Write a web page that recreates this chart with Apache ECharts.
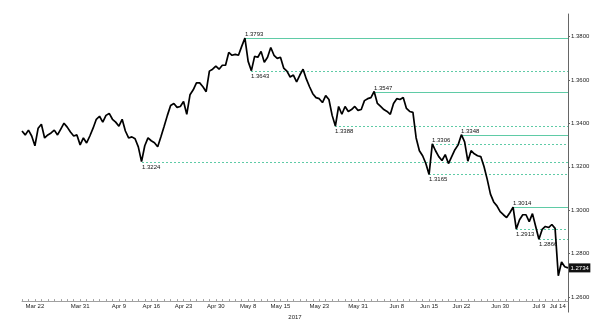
<!DOCTYPE html>
<html><head><meta charset="utf-8">
<script src="https://cdn.jsdelivr.net/npm/echarts@6/dist/echarts.min.js"></script>
<style>html,body{margin:0;padding:0;background:#fff}#c{width:600px;height:325px}</style>
</head><body><div id="c"></div>
<script>
// GBP/CAD, two readings per trading day, 20 Mar - 14 Jul 2017
const prices = [
1.3365,1.3347,1.3369,1.3342,1.3297,1.3378,1.3396,1.3333,1.3347,1.3356,
1.3369,1.3347,1.3374,1.3401,1.3383,1.3360,1.3342,1.3347,1.3301,1.3333,
1.3310,1.3342,1.3378,1.3419,1.3433,1.3406,1.3437,1.3446,1.3419,1.3406,
1.3387,1.3419,1.3365,1.3333,1.3338,1.3329,1.3292,1.3224,1.3297,1.3333,
1.3320,1.3311,1.3292,1.3338,1.3387,1.3437,1.3483,1.3492,1.3474,1.3478,
1.3501,1.3442,1.3532,1.3555,1.3587,1.3587,1.3569,1.3546,1.3641,1.3650,
1.3664,1.3650,1.3668,1.3668,1.3727,1.3714,1.3718,1.3714,1.3755,1.3793,
1.3686,1.3643,1.3709,1.3705,1.3732,1.3682,1.3705,1.3750,1.3714,1.3700,
1.3705,1.3655,1.3641,1.3614,1.3623,1.3591,1.3623,1.3650,1.3605,1.3569,
1.3537,1.3519,1.3514,1.3496,1.3528,1.3510,1.3437,1.3388,1.3478,1.3442,
1.3478,1.3455,1.3464,1.3478,1.3460,1.3464,1.3505,1.3514,1.3519,1.3547,
1.3492,1.3478,1.3464,1.3455,1.3442,1.3492,1.3514,1.3510,1.3519,1.3469,
1.3455,1.3451,1.3333,1.3274,1.3251,1.3215,1.3165,1.3306,1.3274,1.3247,
1.3229,1.3256,1.3215,1.3247,1.3279,1.3301,1.3348,1.3315,1.3226,1.3274,
1.3260,1.3251,1.3247,1.3201,1.3142,1.3074,1.3038,1.3020,1.2993,1.2979,
1.2966,1.2988,1.3014,1.2913,1.2956,1.2979,1.2979,1.2947,1.2984,1.2925,
1.2866,1.2911,1.2925,1.2920,1.2934,1.2916,1.2698,1.2761,1.2739,1.2734
];
const tickLabels = ['Mar 22','Mar 31','Apr 9','Apr 16','Apr 23','Apr 30','May 8','May 15','May 23','May 31','Jun 8','Jun 15','Jun 22','Jun 30','Jul 9','Jul 14'];
const tickDays = ['2017-03-22','2017-03-31','2017-04-10','2017-04-17','2017-04-24','2017-05-01','2017-05-08','2017-05-15','2017-05-23','2017-05-31','2017-06-08','2017-06-15','2017-06-22','2017-06-30','2017-07-10','2017-07-14'];
const yTicks = [1.26,1.28,1.30,1.32,1.34,1.36,1.38];
const levels = [1.3793,1.3643,1.3547,1.3388,1.3348,1.3306,1.3224,1.3165,1.3014,1.2913,1.2866];
const levelSide = ['top','bottom','top','bottom','top','top','bottom','bottom','top','bottom','bottom'];
const levelStyle = ['solid','dashed','solid','dashed','solid','dashed','dashed','dashed','solid','dashed','dashed'];
const yearLabel = '2017';
const lastValue = 1.2734;

const cats = [];
let d = new Date(Date.UTC(2017,2,20));
const endT = Date.UTC(2017,6,14);
while (d.getTime() <= endT) {
  const wd = d.getUTCDay();
  if (wd !== 0 && wd !== 6) { const s = d.toISOString().slice(0,10); cats.push(s+' 00:00', s+' 12:00'); }
  d = new Date(d.getTime() + 86400000);
}
const labelMap = {};
tickDays.forEach((t,i)=>{ labelMap[t+' 00:00'] = tickLabels[i]; });
const lastIdx = cats.length - 1;
const lastCat = cats[lastIdx];
const TEAL = '#5fcba6';
const FONT = 'Liberation Sans';

// level lines: [start index, value, end index, solid?1:0, labelAbove?1:0]
const levelData = levels.map((v,i)=>[prices.indexOf(v), v, lastIdx, levelStyle[i]==='solid'?1:0, levelSide[i]==='top'?1:0]);

function renderLevel(params, api) {
  const v = api.value(1);
  const s = api.coord([api.value(0), v]);
  const e = api.coord([api.value(2), v]);
  const y = Math.round(s[1]) + 0.5;
  const solid = api.value(3) === 1;
  const above = api.value(4) === 1;
  return {type:'group', children:[
    {type:'line', shape:{x1:Math.round(s[0]), y1:y, x2:e[0], y2:y},
     style:{stroke:TEAL, lineWidth:1, lineDash: solid ? null : [2,2]}},
    {type:'text', x:Math.round(s[0]), y: above ? y - 1 : y + 1.5,
     style:{text: v.toFixed(4), fontSize:6, fill:'#111', fontFamily:FONT,
            align:'left', verticalAlign: above ? 'bottom' : 'top'}}
  ]};
}

const chart = echarts.init(document.getElementById('c'), null, {renderer:'canvas'});
chart.setOption({
  animation:false,
  backgroundColor:'#fff',
  grid:{left:22, right:32, top:14, bottom:8},
  xAxis:{
    type:'category', data:cats, boundaryGap:false, offset:-11,
    axisLine:{lineStyle:{color:'#a0a0a0', width:1}},
    axisTick:{interval:(i)=> i%2===0, length:2, inside:true, lineStyle:{color:'#a0a0a0'}},
    axisLabel:{interval:(i,v)=> labelMap[v]!==undefined,
      formatter:(v)=> v===tickDays[tickDays.length-1]+' 00:00' ? '{r|'+labelMap[v]+'}' : (labelMap[v]||''),
      fontSize:6, color:'#222', margin:2, fontFamily:FONT,
      rich:{r:{fontSize:6, color:'#222', fontFamily:FONT, padding:[0,14,0,0]}}},
    splitLine:{show:false},
    name:yearLabel, nameLocation:'middle', nameGap:8,
    nameTextStyle:{fontSize:6, color:'#222', fontFamily:FONT}
  },
  yAxis:{
    type:'value', position:'right', min:1.25302, max:1.39043, scale:true,
    axisLine:{show:true, lineStyle:{color:'#666'}},
    axisTick:{show:true, customValues:yTicks, length:2, lineStyle:{color:'#666'}},
    axisLabel:{customValues:yTicks, formatter:(v)=>v.toFixed(4), fontSize:6, margin:3, color:'#222', fontFamily:FONT},
    splitLine:{show:false}
  },
  series:[
    {type:'custom', data:levelData, renderItem:renderLevel, silent:true, clip:false, z:2},
    {type:'line', data:prices, symbol:'none', clip:false, z:5,
     lineStyle:{color:'#000', width:1.7},
     markPoint:{silent:true, symbol:'rect', symbolSize:0,
      data:[{coord:[lastCat, lastValue], value:lastValue}],
      label:{show:true, position:'right', distance:1, formatter:lastValue.toFixed(4),
        backgroundColor:'#111', color:'#fff', fontSize:6, padding:[1.5,1.5], fontFamily:FONT}}}
  ]
});
</script></body></html>
